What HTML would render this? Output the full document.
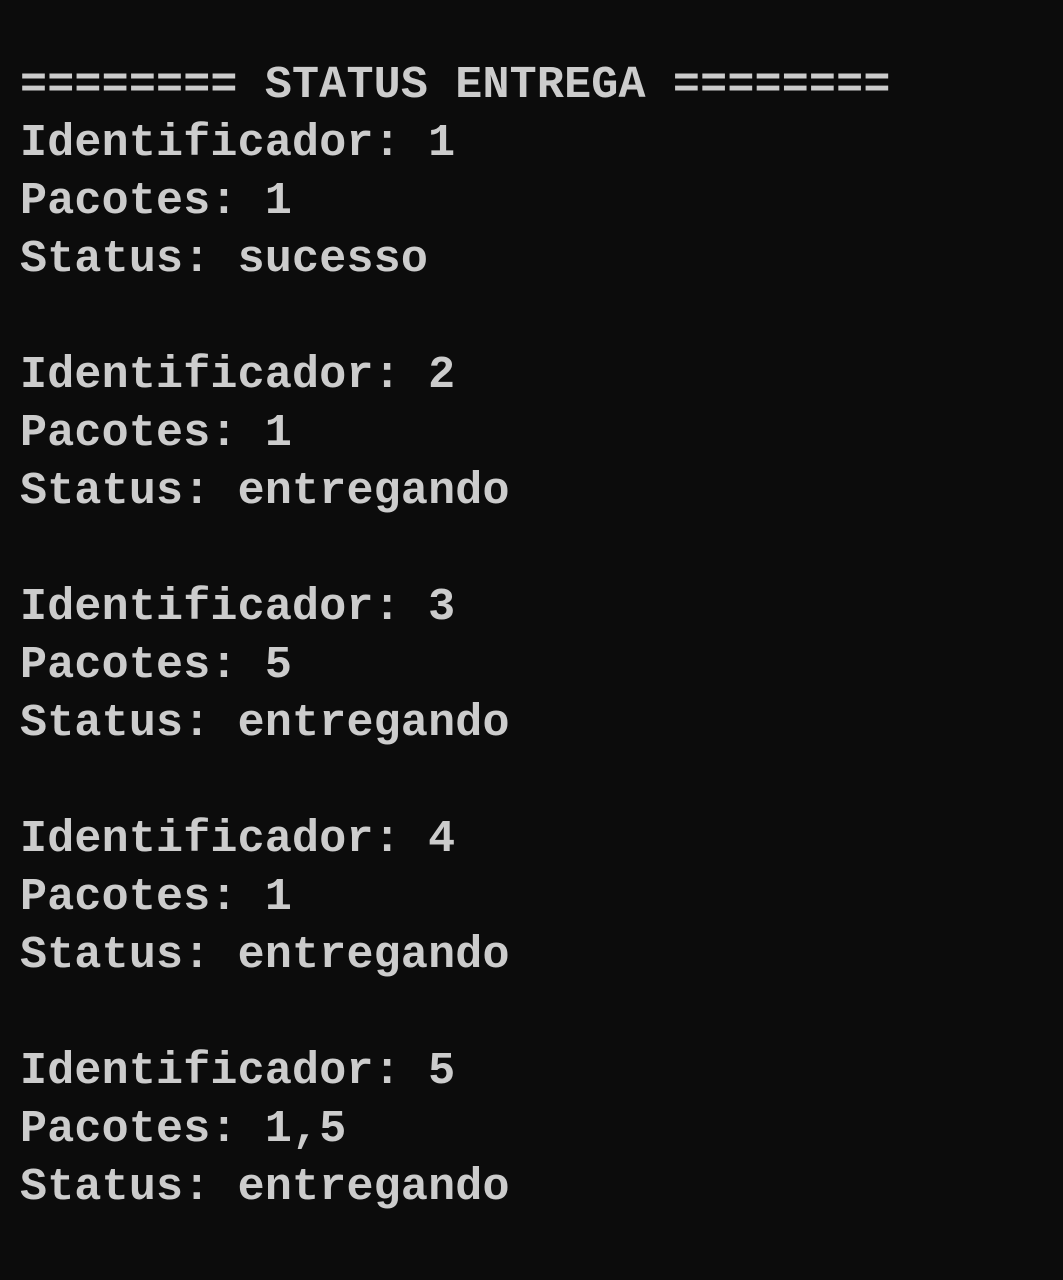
<!DOCTYPE html>
<html><head><meta charset="utf-8"><style>
html,body{margin:0;padding:0;background:#0c0c0c;width:1063px;height:1280px;overflow:hidden}
pre{position:absolute;left:20px;top:57px;margin:0;font-family:"Liberation Mono",monospace;font-size:45px;line-height:58px;letter-spacing:0.2px;color:#cccccc;font-weight:bold}
</style></head><body>
<pre>======== STATUS ENTREGA ========
Identificador: 1
Pacotes: 1
Status: sucesso

Identificador: 2
Pacotes: 1
Status: entregando

Identificador: 3
Pacotes: 5
Status: entregando

Identificador: 4
Pacotes: 1
Status: entregando

Identificador: 5
Pacotes: 1,5
Status: entregando</pre>
</body></html>
